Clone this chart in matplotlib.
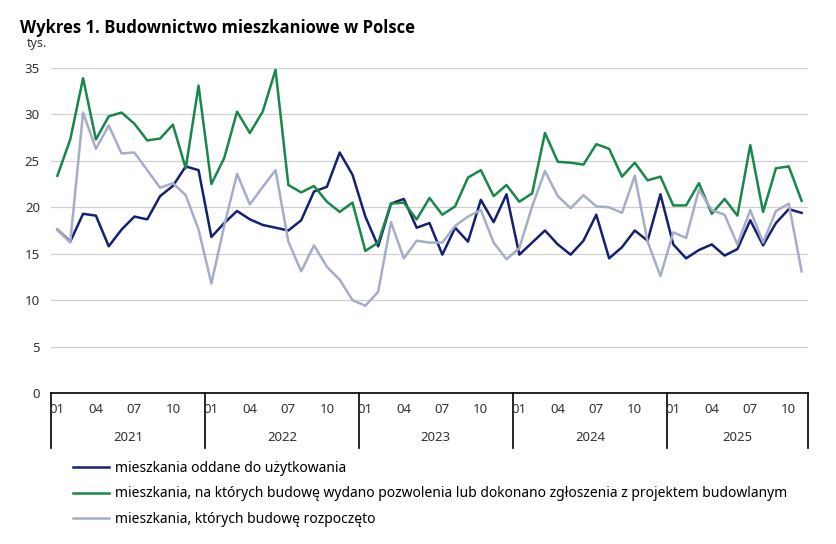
import matplotlib
matplotlib.use("Agg")
import matplotlib.pyplot as plt
import matplotlib.transforms as mtransforms

plt.rcParams["font.family"] = ["Noto Sans", "DejaVu Sans"]

# dane miesieczne 2021-01 .. 2025-11 (tys.)
lata = ["2021", "2022", "2023", "2024", "2025"]
miesiace_etykiety = ["01", "04", "07", "10"]

oddane = [
    17.6, 16.3, 19.3, 19.1, 15.8, 17.6, 19.0, 18.7, 21.2, 22.3, 24.4, 24.0,
    16.8, 18.3, 19.6, 18.7, 18.1, 17.8, 17.5, 18.6, 21.7, 22.2, 25.9, 23.5,
    19.0, 15.8, 20.4, 20.9, 17.8, 18.3, 14.9, 17.8, 16.3, 20.8, 18.4, 21.4,
    14.9, 16.2, 17.5, 16.0, 14.9, 16.4, 19.2, 14.5, 15.7, 17.5, 16.4, 21.4,
    16.0, 14.5, 15.4, 16.0, 14.8, 15.5, 18.6, 15.9, 18.3, 19.8, 19.4,
]
pozwolenia = [
    23.4, 27.3, 33.9, 27.3, 29.8, 30.2, 29.0, 27.2, 27.4, 28.9, 24.2, 33.1,
    22.5, 25.3, 30.3, 28.0, 30.3, 34.8, 22.4, 21.6, 22.3, 20.6, 19.5, 20.5,
    15.3, 16.2, 20.4, 20.5, 18.7, 21.0, 19.2, 20.1, 23.2, 24.0, 21.2, 22.4,
    20.6, 21.5, 28.0, 24.9, 24.8, 24.6, 26.8, 26.3, 23.3, 24.8, 22.9, 23.3,
    20.2, 20.2, 22.6, 19.3, 20.9, 19.1, 26.7, 19.5, 24.2, 24.4, 20.7,
]
rozpoczete = [
    17.6, 16.2, 30.2, 26.3, 28.8, 25.8, 25.9, 24.0, 22.1, 22.6, 21.3, 17.6,
    11.8, 18.0, 23.6, 20.3, 22.2, 24.0, 16.3, 13.1, 15.9, 13.6, 12.2, 10.0,
    9.4, 10.9, 18.4, 14.5, 16.4, 16.2, 16.2, 18.0, 19.0, 19.7, 16.2, 14.4,
    15.6, 20.1, 23.9, 21.2, 19.9, 21.3, 20.1, 20.0, 19.4, 23.4, 16.3, 12.6,
    17.3, 16.7, 21.9, 19.7, 19.2, 16.0, 19.7, 16.2, 19.6, 20.4, 13.1,
]

fig = plt.figure(figsize=(8.36, 5.44), dpi=100)
ax = fig.add_axes([51 / 836, 1 - 393 / 544, (808 - 51) / 836, (393 - 68) / 544])

x = list(range(len(oddane)))
ax.plot(x, oddane, color="#142170", lw=1.8, label="mieszkania oddane do użytkowania")
ax.plot(x, pozwolenia, color="#17884a", lw=1.8,
        label="mieszkania, na których budowę wydano pozwolenia lub dokonano zgłoszenia z projektem budowlanym")
ax.plot(x, rozpoczete, color="#a5adc8", lw=1.8, label="mieszkania, których budowę rozpoczęto")

ax.set_xlim(-0.5, len(x) - 0.5)
ax.set_ylim(0, 35)
ax.set_yticks(range(0, 36, 5))
ax.yaxis.grid(True, color="#d0d0d0", lw=0.9)
ax.set_axisbelow(True)
for s in ["top", "right", "left"]:
    ax.spines[s].set_visible(False)
ax.spines["bottom"].set_color("black")
ax.spines["bottom"].set_linewidth(1.2)
ax.tick_params(axis="y", length=0, labelsize=9.5, labelcolor="#333333", pad=8)
ax.set_xticks([])

# osie kategorii: miesiace i lata
trans = mtransforms.blended_transform_factory(ax.transData, ax.transAxes)
for k, rok in enumerate(lata):
    start = k * 12 - 0.5
    ax.plot([start, start], [0, -0.17], transform=trans, color="black", lw=1.2, clip_on=False)
    n = min(12, len(x) - k * 12)
    for j, lab in enumerate(miesiace_etykiety):
        m = k * 12 + j * 3
        ax.text(m, -0.052, lab, transform=trans, ha="center", va="center",
                fontsize=9.5, color="#333333")
    ax.text(start + n / 2, -0.138, rok, transform=trans, ha="center", va="center",
            fontsize=9.5, color="#333333")
ax.plot([len(x) - 0.5] * 2, [0, -0.17], transform=trans, color="black", lw=1.2, clip_on=False)

fig.text(20 / 836, 1 - 28 / 544, "Wykres 1. Budownictwo mieszkaniowe w Polsce",
         fontsize=12, fontweight="bold", family=["Open Sans", "DejaVu Sans"],
         va="center", ha="left")
fig.text(27 / 836, 1 - 43 / 544, "tys.", fontsize=9, color="#333333", va="center", ha="left")

fig.legend(loc="upper left", bbox_to_anchor=(73 / 836, 1 - 461 / 544), frameon=False,
           fontsize=10, handlelength=2.6, handletextpad=0.4, labelspacing=0.75, borderpad=0,
           borderaxespad=0)

fig.savefig("out.png", dpi=100)
